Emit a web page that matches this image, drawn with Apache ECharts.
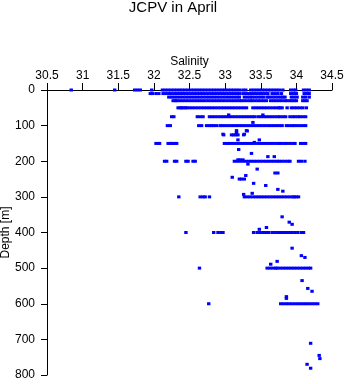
<!DOCTYPE html>
<html>
<head>
<meta charset="utf-8">
<script src="https://cdn.jsdelivr.net/npm/echarts@6/dist/echarts.min.js"></script>
<style>html,body{margin:0;padding:0;background:#fff}#c{width:346px;height:384px}</style>
</head>
<body>
<div id="c"></div>
<script>
// Standard depths (m) and salinity readings at each
const depths = [0, 10, 20, 30, 50, 75, 100, 150, 200, 300, 400, 500, 600];
const sal0 = [30.84,31.45,31.73,31.77,31.81,31.97,
 32.12,32.16,32.20,32.24,32.28,32.32,32.36,32.40,32.44,32.48,32.52,32.56,32.60,32.64,32.68,32.72,32.76,32.80,32.84,32.88,32.92,32.96,33.00,33.04,33.08,33.12,33.16,33.20,33.25,33.29,
 33.36,33.40,33.44,33.48,33.52,33.56,33.60,33.64,33.68,33.72,33.76,33.81,
 33.92,33.96,33.99,34.10,34.14,34.18];
const sal10 = [31.95,31.98,32.03,32.07,32.13,32.17,32.21,
 32.24,32.28,32.32,32.36,32.40,32.44,32.48,32.52,32.56,32.60,32.64,32.68,32.72,32.76,32.80,32.84,32.88,32.92,32.96,33.00,33.04,33.08,33.12,33.16,33.20,33.25,
 33.29,33.33,33.37,33.41,33.45,33.49,33.52,33.56,33.60,33.66,33.70,33.74,33.79,
 33.92,33.96,34.00,34.11,34.15,34.18];
const sal20 = [32.21,32.25,
 32.29,32.33,32.37,32.41,32.45,32.49,32.53,32.57,32.61,32.65,32.69,32.73,32.77,32.81,32.85,32.89,32.93,32.97,33.01,33.05,33.09,33.13,33.17,33.20,
 33.27,33.31,33.35,33.38,33.42,33.46,33.50,33.54,33.59,33.62,33.66,33.70,33.74,33.78,33.81,33.84,
 33.93,33.97,34.01,34.09,34.13,34.18];
const sal30 = [32.27,32.30,
 32.32,32.36,32.40,32.44,32.48,32.52,32.56,32.60,32.64,32.68,32.72,32.76,32.80,32.84,32.88,32.92,32.96,33.00,33.04,33.08,33.12,33.16,33.20,33.23,
 33.27,33.31,33.35,33.38,33.42,33.46,33.50,33.54,33.58,33.64,33.68,33.72,33.76,33.80,33.84,33.87,33.91,
 33.94,33.97,34.00,34.09,34.12,34.15];
const sal50 = [32.34,32.37,32.39,32.41,32.44,32.46,
 32.50,32.54,32.58,32.62,32.66,32.70,32.74,32.78,32.82,32.86,32.90,32.94,32.98,33.02,33.06,33.10,33.14,33.18,33.22,33.26,33.30,
 33.39,33.43,33.47,33.51,33.55,33.59,33.63,33.67,33.71,33.75,33.77,33.80,33.87,
 33.93,33.97,34.01,34.05,34.09,34.14];
const sal75 = [32.25,32.28,32.61,32.65,32.69,
 32.78,32.82,32.86,32.90,32.94,32.98,33.02,33.06,33.10,33.14,33.18,33.22,33.26,33.30,33.34,
 33.38,33.41,33.46,33.50,33.54,33.58,33.62,33.66,33.70,33.74,33.77,
 33.81,33.85,33.91,33.95,33.98,34.02,34.05,34.09,34.13];
const sal100 = [32.19,32.23,32.63,32.67,32.74,32.78,32.81,32.84,32.88,32.93,
 32.96,33.00,33.04,33.08,33.12,33.16,33.20,33.24,33.28,33.32,33.36,33.40,33.44,33.48,33.52,33.56,33.60,33.64,33.68,33.72,
 33.76,33.80,33.86,33.90,33.94,33.97,34.01,34.05,34.09,34.13];
const sal150 = [32.03,32.06,32.08,32.20,32.23,32.25,32.27,32.30,32.32,32.99,33.03,
 33.06,33.10,33.14,33.18,33.22,33.26,33.30,33.34,33.38,33.42,33.46,33.50,33.54,33.58,33.62,33.66,33.70,33.74,33.76,
 33.80,33.84,33.87,33.91,33.95,33.98,34.06,34.10,34.13];
const sal200 = [32.15,32.18,32.29,32.32,32.45,32.48,32.55,32.58,
 33.13,33.17,33.21,33.25,33.29,33.33,33.37,33.41,33.45,33.49,33.53,33.57,33.61,33.65,33.69,33.73,33.76,
 33.80,33.84,33.88,33.91,34.03,34.07,34.12];
const sal300 = [32.35,32.65,32.69,32.72,32.78,
 33.27,33.31,33.35,33.39,33.43,33.47,33.51,33.55,33.59,33.63,33.67,33.71,33.75,33.79,33.83,33.87,33.91,33.95,
 33.97,34.00,34.03];
const sal400 = [32.45,32.84,32.90,32.94,32.97,33.40,
 33.45,33.49,33.53,33.57,33.61,33.66,
 33.70,33.74,33.78,33.82,33.86,33.90,33.94,33.98,34.02,34.07,34.10];
const sal500 = [32.64,33.59,33.63,33.67,33.71,33.73,
 33.77,33.81,33.85,33.89,33.93,33.97,34.01,34.05,34.09,34.13,34.17,34.20];
const sal600 = [32.77,
 33.78,33.82,33.86,33.90,33.94,33.98,34.02,34.06,34.10,34.14,34.18,34.22,34.26,34.30];
const rowSal = [sal0, sal10, sal20, sal30, sal50, sal75, sal100, sal150, sal200, sal300, sal400, sal500, sal600];

// Readings at other depths
const extraDepth = [70,70,91,114,114,124,124,124,115,120,126,126,126,126,126,126,
 140,140,147,167,178,187,187,196,196,196,
 208,222,233,233,240,245,250,250,250,262,268,279,284,290,293,
 356,371,377,386,391,444,465,470,481,489,
 535,557,565,580,585,711,745,754,770,781];
const extraSal = [33.05,33.53,33.39,33.30,33.16,32.97,33.16,33.27,33.31,33.16,32.98,33.09,33.12,33.15,33.18,33.26,
 33.18,33.48,33.41,33.19,33.37,33.60,33.69,33.18,33.21,33.25,
 33.32,33.45,33.70,33.74,33.29,33.10,33.20,33.23,33.27,33.40,33.57,33.74,33.81,33.38,33.26,
 33.80,33.90,33.94,33.58,33.48,33.94,34.07,34.12,33.73,33.64,
 34.08,34.16,34.22,33.86,33.86,34.20,34.32,34.33,34.15,34.20];

const xTicks = {min: 30.5, max: 34.5, interval: 0.5};
const yTicks = {min: 0, max: 800, interval: 100};

const points = [];
depths.forEach((d, i) => rowSal[i].forEach(s => points.push([s, d])));
extraDepth.forEach((d, i) => points.push([extraSal[i], d]));

const font = 'Liberation Sans, Arial, Helvetica, sans-serif';
const chart = echarts.init(document.getElementById('c'), null, {renderer: 'canvas'});
chart.setOption({
  animation: false,
  backgroundColor: '#fff',
  title: {
    text: 'JCPV in April', left: 'center', top: 0, padding: 0,
    textStyle: {fontFamily: font, fontSize: 15, fontWeight: 'normal', color: '#000'}
  },
  grid: {left: 47, top: 90, right: 14, bottom: 9, containLabel: false, outerBoundsMode: 'none'},
  xAxis: {
    type: 'value', position: 'top',
    min: xTicks.min, max: xTicks.max, interval: xTicks.interval,
    name: 'Salinity', nameLocation: 'middle', nameGap: 22, nameMoveOverlap: false,
    nameTextStyle: {fontFamily: font, fontSize: 12, color: '#000'},
    axisLine: {show: true, onZero: false, lineStyle: {color: '#000', width: 1}},
    axisTick: {show: true, length: 7, lineStyle: {color: '#000'}},
    axisLabel: {fontFamily: font, fontSize: 12, color: '#000', margin: 8, showMinLabel: true, showMaxLabel: true},
    splitLine: {show: false}
  },
  yAxis: {
    type: 'value', inverse: true,
    min: yTicks.min, max: yTicks.max, interval: yTicks.interval,
    name: 'Depth [m]', nameLocation: 'middle', nameGap: 35, nameRotate: 90, nameMoveOverlap: false,
    nameTextStyle: {fontFamily: font, fontSize: 12, color: '#000'},
    axisLine: {show: true, onZero: false, lineStyle: {color: '#000', width: 1}},
    axisTick: {show: true, length: 6, lineStyle: {color: '#000'}},
    axisLabel: {fontFamily: font, fontSize: 12, color: '#000', margin: 12, showMinLabel: true, showMaxLabel: true},
    splitLine: {show: false}
  },
  series: [{
    type: 'scatter',
    data: points,
    symbol: 'rect',
    symbolSize: [3.4, 3],
    itemStyle: {color: '#0000ff', opacity: 1},
    silent: true
  }]
});
</script>
</body>
</html>
